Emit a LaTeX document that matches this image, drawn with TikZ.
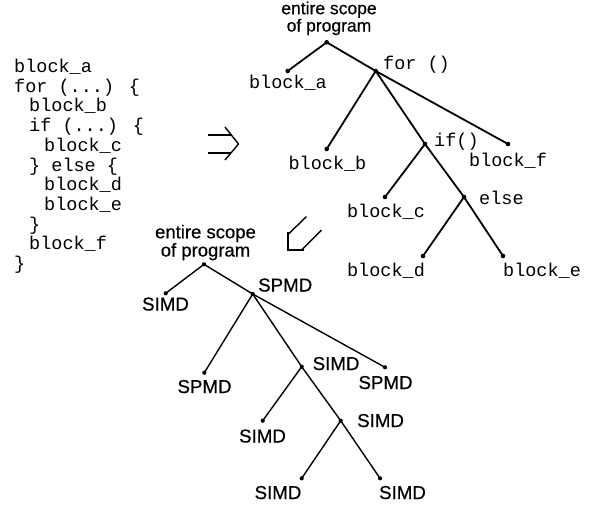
\documentclass[tikz,border=0pt]{standalone}
\usepackage{fontspec}
\setmainfont{Liberation Sans}
\newfontfamily\labfont[FakeBold=0.6]{Liberation Sans}
\newfontfamily\codefont{Liberation Mono}
\begin{document}
\begin{tikzpicture}[x=1pt,y=-1pt,
  code/.style={font=\codefont\fontsize{18.5}{20}\selectfont,inner sep=0pt,anchor=base west},
  mlab/.style={font=\codefont\fontsize{18.5}{20}\selectfont,inner sep=0pt},
  slab/.style={font=\labfont\fontsize{18.7}{16}\selectfont,inner sep=0pt},
  rootlab/.style={inner sep=0pt,align=center,anchor=base},
  topedge/.style={line width=1.8pt},
  botedge/.style={line width=1.4pt},
  dot/.style={fill=black},
  hollow/.style={line width=1.4pt,line cap=butt}]
\useasboundingbox (0,0) rectangle (596,504);

% ---- code listing ----
\node[code] (l1)  at (14,72.5)  {block\_a};
\node[code] (l2)  at (14,92.2)  {for (...) \{};
\node[code] (l3)  at (29,111.9) {block\_b};
\node[code] (l4)  at (29,131.6) {if (...) \{};
\node[code] (l5)  at (44,151.3) {block\_c};
\node[code] (l6)  at (29,171.0) {\} else \{};
\node[code] (l7)  at (44,190.7) {block\_d};
\node[code] (l8)  at (44,210.4) {block\_e};
\node[code] (l9)  at (29,230.1) {\}};
\node[code] (l10) at (29,249.8) {block\_f};
\node[code] (l11) at (14,269.5) {\}};

% ---- top tree ----
\coordinate (tr) at (326.7,42.3);
\coordinate (ta) at (287.7,71);
\coordinate (tfor) at (375.7,71);
\coordinate (tb) at (326.7,149);
\coordinate (tif) at (425,144);
\coordinate (tf) at (508,144);
\coordinate (tc) at (385,197);
\coordinate (telse) at (464,197);
\coordinate (td) at (423,256);
\coordinate (te) at (503,256);

\draw[topedge] (ta) -- (tr) -- (tfor);
\draw[topedge] (tb) -- (tfor) -- (tf);
\draw[topedge] (tfor) -- (tif) -- (telse) -- (te);
\draw[topedge] (tc) -- (tif);
\draw[topedge] (td) -- (telse);
\foreach \p in {tr,ta,tfor,tb,tif,tf,tc,telse,td,te} \fill[dot] (\p) circle (2.3);

\node[rootlab,font=\labfont\fontsize{17.5}{12.5}\selectfont] (trl) at (329,31.5) {entire scope\\of program};
\node[mlab,anchor=base] (tal) at (288,88.5) {block\_a};
\node[mlab,anchor=base west] (tforl) at (383,69) {for ()};
\node[mlab,anchor=base] (tbl) at (327.5,169.5) {block\_b};
\node[mlab,anchor=base west] (tifl) at (434,146) {if()};
\node[mlab,anchor=base] (tfl) at (508,166) {block\_f};
\node[mlab,anchor=base] (tcl) at (386,217) {block\_c};
\node[mlab,anchor=base west] (telsel) at (479,204) {else};
\node[mlab,anchor=base] (tdl) at (386,276) {block\_d};
\node[mlab,anchor=base] (tel) at (542,276) {block\_e};

% ---- arrows ----
\coordinate (ra1) at (208,135); \coordinate (ra2) at (231.5,135);
\coordinate (rb1) at (208,153); \coordinate (rb2) at (231,153);
\coordinate (rc1) at (225,127); \coordinate (rc2) at (238.5,144); \coordinate (rc3) at (225,160);
\draw[hollow] (ra1) -- (ra2);
\draw[hollow] (rb1) -- (rb2);
\draw[hollow,line join=miter] (rc1) -- (rc2) -- (rc3);

\coordinate (da1) at (306.5,216.5); \coordinate (da2) at (288.5,234);
\coordinate (db1) at (321.5,230);   \coordinate (db2) at (302,249.5);
\coordinate (dc1) at (288,231.5); \coordinate (dc2) at (288,250); \coordinate (dc3) at (304,250);
\draw[hollow] (da1) -- (da2);
\draw[hollow] (db1) -- (db2);
\draw[hollow,line join=miter] (dc1) -- (dc2) -- (dc3);

% ---- bottom tree ----
\coordinate (br) at (204,264.3);
\coordinate (bl) at (165.7,293.3);
\coordinate (bs) at (252.7,294);
\coordinate (bsl) at (204.3,372.7);
\coordinate (bm) at (301.7,366.7);
\coordinate (bsr) at (385,367.3);
\coordinate (bmc) at (262.7,420.7);
\coordinate (bn) at (340.7,420.7);
\coordinate (bbl) at (301.7,478.3);
\coordinate (bbr) at (380,478.3);

\draw[botedge] (bl) -- (br) -- (bs);
\draw[botedge] (bsl) -- (bs) -- (bsr);
\draw[botedge] (bs) -- (bm) -- (bn) -- (bbr);
\draw[botedge] (bmc) -- (bm);
\draw[botedge] (bbl) -- (bn);
\foreach \p in {br,bl,bs,bsl,bm,bsr,bmc,bn,bbl,bbr} \fill[dot] (\p) circle (2.1);

\node[rootlab,font=\labfont\fontsize{18.5}{16.5}\selectfont] (brl) at (205.5,256.5) {entire scope\\of program};
\node[slab,anchor=base] (bll) at (165.5,310.5) {SIMD};
\node[slab,anchor=base west] (bsll) at (258,291.5) {SPMD};
\node[slab,anchor=base] (bsl2) at (204.5,393) {SPMD};
\node[slab,anchor=base west] (bml) at (312.5,370) {SIMD};
\node[slab,anchor=base] (bsrl) at (385.5,389) {SPMD};
\node[slab,anchor=base] (bmcl) at (262.5,442.5) {SIMD};
\node[slab,anchor=base west] (bnl) at (357,427) {SIMD};
\node[slab,anchor=base] (bbll) at (278,499) {SIMD};
\node[slab,anchor=base] (bbrl) at (402.5,499) {SIMD};
\end{tikzpicture}
\end{document}
